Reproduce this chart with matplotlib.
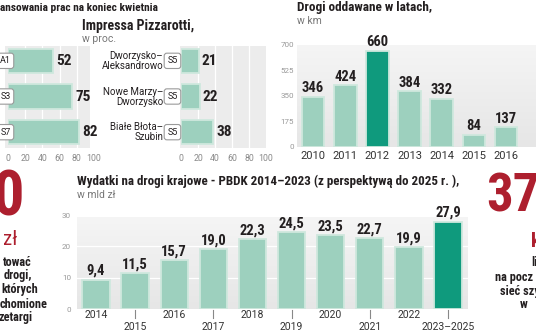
import matplotlib
matplotlib.use('Agg')
import matplotlib.pyplot as plt
import numpy as np
from matplotlib.patches import Rectangle
from matplotlib.colors import LinearSegmentedColormap
import matplotlib.transforms as mtransforms

# ---------------- data ----------------
left_codes = ['A1', 'S3', 'S7']
left_vals = [52, 75, 82]
right_cats = ['Dworzysko–\nAleksandrowo', 'Nowe Marzy–\nDworzysko', 'Białe Błota–\nSzubin']
right_codes = ['S5', 'S5', 'S5']
right_vals = [21, 22, 38]
pct_ticks = [0, 20, 40, 60, 80, 100]

road_years = ['2010', '2011', '2012', '2013', '2014', '2015', '2016']
road_km = [346, 424, 660, 384, 332, 84, 137]
road_ticks = [0, 175, 350, 525, 700]
road_highlight = 2

spend_years = ['2014', '2015', '2016', '2017', '2018', '2019', '2020', '2021', '2022', '2023–2025']
spend_vals = [9.4, 11.5, 15.7, 19.0, 22.3, 24.5, 23.5, 22.7, 19.9, 27.9]
spend_ticks = [0, 10, 20, 30]
spend_highlight = 9

# ---------------- style ----------------
COND = ['Roboto Condensed', 'Noto Sans Condensed', 'Noto Sans', 'Roboto']
CS = 'condensed'
REG = ['Roboto', 'DejaVu Sans']
LG = '#9dd0be'
LGE = '#cfe8de'
HL = '#0f9a7d'
PANEL = '#ececec'
DARK = '#231f20'
GREY = '#8a8a8a'
RED = '#ad1f2e'

W, H = 536, 332
fig = plt.figure(figsize=(W / 100, H / 100), dpi=100)
fig.patch.set_facecolor('white')


def ax_px(x0, y0, x1, y1):
    return fig.add_axes([x0 / W, 1 - y1 / H, (x1 - x0) / W, (y1 - y0) / H])


def t(x, y, s, **kw):
    fig.text(x / W, 1 - y / H, s, **kw)


grad_cmap = LinearSegmentedColormap.from_list('g', ['#f5f5f5', '#e6e6e6'])


def clean(ax):
    for sp in ax.spines.values():
        sp.set_visible(False)


# ---------------- titles ----------------
t(0, 8, 'ansowania prac na koniec kwietnia', family=COND, fontstretch=CS, fontweight='bold',
  fontsize=8.2, color=DARK, va='center', ha='left')
t(82, 26, 'Impressa Pizzarotti,', family=COND, fontstretch=CS, fontweight='bold',
  fontsize=10, color=DARK, va='center', ha='left')
t(82, 39, 'w proc.', family=REG, fontsize=7.5, color='#777777', va='center', ha='left')

t(297, 8, 'Drogi oddawane w latach,', family=COND, fontstretch=CS, fontweight='bold',
  fontsize=9.5, color=DARK, va='center', ha='left')
t(297, 21, 'w km', family=REG, fontsize=7.5, color='#777777', va='center', ha='left')

t(77, 181, 'Wydatki na drogi krajowe - PBDK 2014–2023 (z perspektywą do 2025 r. ),',
  family=COND, fontstretch=CS, fontweight='bold', fontsize=9.4, color=DARK, va='center', ha='left')
t(77, 195, 'w mld zł', family=REG, fontsize=7.5, color='#777777', va='center', ha='left')


# ---------------- horizontal bar panels ----------------
def hpanel(x0, x1, vals, codes, code_x, val_off, cats=None, cat_x=None, panel_ext=(-0.03, 1.0)):
    ax = ax_px(x0, 43, x1, 150)
    ax.set_xlim(0, 100)
    ax.set_ylim(2.5, -0.5)
    ax.set_facecolor('none')
    clean(ax)
    ax.add_patch(Rectangle((panel_ext[0], 0.02), panel_ext[1] - panel_ext[0], 0.95,
                           transform=ax.transAxes, facecolor=PANEL, edgecolor='none',
                           zorder=0, clip_on=False))
    for g in [20, 40, 60, 80]:
        ax.axvline(g, color='white', lw=0.9, zorder=1)
    ys = np.arange(len(vals))
    ax.barh(ys, vals, height=0.68, color=LG, edgecolor=LGE, linewidth=1.3, zorder=2)
    for y, v, c in zip(ys, vals, codes):
        ax.text(v + val_off, y, str(v), ha='left', va='center', family=COND, fontstretch=CS,
                fontweight='bold', fontsize=11, color=DARK, zorder=5)
        ax.text(code_x, y, c, ha='right', va='center', family=REG, fontsize=6.5,
                color=DARK, zorder=6, clip_on=False,
                bbox=dict(boxstyle='round,pad=0.35,rounding_size=0.3', fc='white',
                          ec='#9a9a9a', lw=0.8))
    if cats is not None:
        for y, c in zip(ys, cats):
            ax.text(cat_x, y, c, ha='right', va='center', family=REG, fontsize=7,
                    color=DARK, linespacing=1.0, multialignment='right', clip_on=False)
    ax.set_yticks([])
    ax.set_xticks(pct_ticks)
    ax.set_xticklabels([str(v) for v in pct_ticks])
    ax.tick_params(axis='x', length=0, pad=3, labelsize=6.3, labelcolor=GREY)
    for lab in ax.get_xticklabels():
        lab.set_family(REG)
    return ax


hpanel(8, 94, left_vals, left_codes, code_x=3, val_off=4, panel_ext=(-0.035, 0.95))
hpanel(181, 266, right_vals, right_codes, code_x=-4, val_off=3.5,
       cats=right_cats, cat_x=-21, panel_ext=(-0.01, 1.0))

# ---------------- roads per year ----------------
ax3 = ax_px(297, 45, 536, 147)
xmax3 = 6.93
ax3.imshow(np.linspace(0, 1, 100).reshape(-1, 1), cmap=grad_cmap, aspect='auto',
           extent=[-0.5, xmax3, 0, 700], zorder=0)
ax3.set_xlim(-0.5, xmax3)
ax3.set_ylim(0, 700)
clean(ax3)
x3 = np.arange(len(road_km))
cols3 = [HL if i == road_highlight else LG for i in x3]
ax3.bar(x3, road_km, width=0.7, color=cols3, edgecolor=LGE, linewidth=1.3, zorder=2)
for i, v in zip(x3, road_km):
    ax3.text(i, v + 10, str(v), ha='center', va='bottom', family=COND, fontstretch=CS,
             fontweight='bold', fontsize=10.5, color=DARK, zorder=5)
ax3.set_yticks(road_ticks)
ax3.set_yticklabels([str(v) for v in road_ticks])
ax3.set_xticks(x3)
ax3.set_xticklabels(road_years)
ax3.tick_params(axis='y', length=0, pad=2, labelsize=5.8, labelcolor='#999999')
ax3.tick_params(axis='x', length=0, pad=3, labelsize=8, labelcolor='#333333')
for lab in ax3.get_xticklabels() + ax3.get_yticklabels():
    lab.set_family(REG)

# ---------------- spending ----------------
ax4 = ax_px(76.5, 215, 467.5, 309)
ax4.imshow(np.linspace(0, 1, 100).reshape(-1, 1), cmap=grad_cmap, aspect='auto',
           extent=[-0.5, 9.5, 0, 29.3], zorder=0)
ax4.set_xlim(-0.5, 9.5)
ax4.set_ylim(0, 30)
clean(ax4)
for g in [10, 20]:
    ax4.axhline(g, color='white', lw=0.9, zorder=1)
x4 = np.arange(len(spend_vals))
cols4 = [HL if i == spend_highlight else LG for i in x4]
ax4.bar(x4, spend_vals, width=0.7, color=cols4, edgecolor=LGE, linewidth=1.3, zorder=2)
for i, v in zip(x4, spend_vals):
    ax4.text(i, v + 0.5, f'{v:.1f}'.replace('.', ','), ha='center', va='bottom',
             family=COND, fontstretch=CS, fontweight='bold', fontsize=10.5, color=DARK, zorder=5)
ax4.set_yticks(spend_ticks)
ax4.set_yticklabels([str(v) for v in spend_ticks])
ax4.set_xticks([])
ax4.tick_params(axis='y', length=0, pad=4, labelsize=5.8, labelcolor='#999999')
for lab in ax4.get_yticklabels():
    lab.set_family(REG)
blend = mtransforms.blended_transform_factory(ax4.transData, ax4.transAxes)
for i, lab in zip(x4, spend_years):
    if i % 2 == 0:
        ax4.text(i, -0.068, lab, transform=blend, ha='center', va='center',
                 family=REG, fontsize=7.5, color='#333333', clip_on=False)
    else:
        ax4.plot([i, i], [-0.012, -0.095], transform=blend, color='#888888',
                 lw=0.8, clip_on=False)
        ax4.text(i, -0.19, lab, transform=blend, ha='center', va='center',
                 family=REG, fontsize=7.5, color='#333333', clip_on=False)

# ---------------- left red callout ----------------
t(24, 215, '0', family=COND, fontstretch=CS, fontweight='bold', fontsize=45, color=RED,
  ha='right', va='baseline')
t(3, 245, 'zł', family=COND, fontstretch=CS, fontsize=15, color=RED, ha='left', va='baseline')
left_lines = [('tować', 32, 262), ('drogi,', 32, 276), ('których', 38, 290),
              ('chomione', 48, 304), ('zetargi', 33, 318)]
for s, xr, y in left_lines:
    t(xr, y, s, family=COND, fontstretch=CS, fontweight='bold', fontsize=8.8, color=DARK,
      ha='right', va='center')

# ---------------- right red callout ----------------
t(486, 212, '37', family=COND, fontstretch=CS, fontweight='bold', fontsize=38, color=RED,
  ha='left', va='baseline')
t(531, 247, 'km', family=COND, fontstretch=CS, fontweight='bold', fontsize=15, color=RED,
  ha='left', va='baseline')
right_lines = [('li', 531, 262), ('na pocz', 495, 277), ('sieć szy', 500, 291),
               ('w', 520, 305)]
for s, xl, y in right_lines:
    t(xl, y, s, family=COND, fontstretch=CS, fontweight='bold', fontsize=8.8, color=DARK,
      ha='left', va='center')

fig.savefig('out.png', dpi=100, facecolor='white')
